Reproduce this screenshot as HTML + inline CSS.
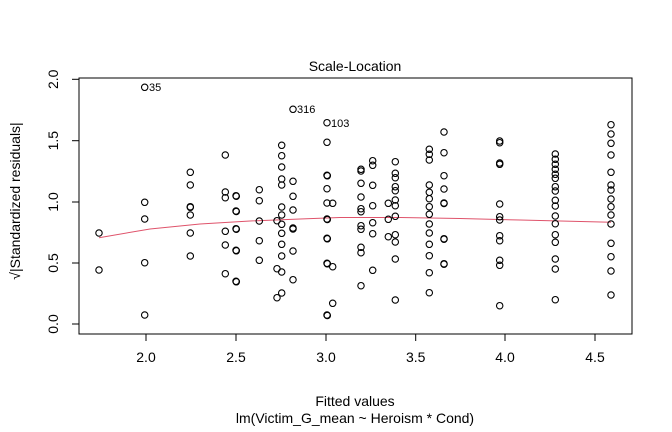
<!DOCTYPE html>
<html><head><meta charset="utf-8"><style>html,body{margin:0;padding:0;background:#fff}svg{display:block}text{font-family:"Liberation Sans",Arial,sans-serif;fill:#000}</style></head><body>
<svg width="672" height="432" viewBox="0 0 672 432" xmlns="http://www.w3.org/2000/svg">
<rect x="79" y="78" width="553" height="256" fill="none" stroke="#000" stroke-width="1"/>
<g stroke="#000" stroke-width="1">
<line x1="146" y1="334" x2="595" y2="334"/>
<line x1="146" y1="334" x2="146" y2="341"/><line x1="236" y1="334" x2="236" y2="341"/><line x1="326" y1="334" x2="326" y2="341"/><line x1="415.7" y1="334" x2="415.7" y2="341"/><line x1="505" y1="334" x2="505" y2="341"/><line x1="595" y1="334" x2="595" y2="341"/>
<line x1="79" y1="79.3" x2="79" y2="324"/>
<line x1="72" y1="79.3" x2="79" y2="79.3"/><line x1="72" y1="140.7" x2="79" y2="140.7"/><line x1="72" y1="202" x2="79" y2="202"/><line x1="72" y1="263" x2="79" y2="263"/><line x1="72" y1="324" x2="79" y2="324"/>
</g>
<g font-size="14" text-anchor="middle">
<text x="146" y="362">2.0</text><text x="236" y="362">2.5</text><text x="326" y="362">3.0</text><text x="415.7" y="362">3.5</text><text x="505" y="362">4.0</text><text x="595" y="362">4.5</text>
<text transform="translate(58,79.3) rotate(-90)">2.0</text>
<text transform="translate(58,140.7) rotate(-90)">1.5</text>
<text transform="translate(58,202) rotate(-90)">1.0</text>
<text transform="translate(58,263) rotate(-90)">0.5</text>
<text transform="translate(58,324) rotate(-90)">0.0</text>
<text x="355" y="71">Scale-Location</text>
<text x="355" y="406">Fitted values</text>
<text x="355" y="423">lm(Victim_G_mean ~ Heroism * Cond)</text>
<text transform="translate(20,201) rotate(-90)">√|Standardized residuals|</text>
</g>
<g font-size="11">
<text x="149" y="91">35</text><text x="297" y="113">316</text><text x="331" y="127">103</text>
</g>
<polyline fill="none" stroke="#df536b" stroke-width="1" points="99,237.7 150,229 200,224 250,221 300,219 340,217.5 400,217.5 460,218.5 520,220 611,222.3"/>
<g fill="none" stroke="#000" stroke-width="1.1">
<circle cx="99" cy="233" r="3.2"/><circle cx="99" cy="270" r="3.2"/>
<circle cx="144.7" cy="87.3" r="3.2"/><circle cx="144.7" cy="202.3" r="3.2"/><circle cx="144.7" cy="219" r="3.2"/><circle cx="144.7" cy="262.7" r="3.2"/><circle cx="144.7" cy="315" r="3.2"/>
<circle cx="190.3" cy="172.3" r="3.2"/><circle cx="190.3" cy="185" r="3.2"/><circle cx="190.3" cy="206.7" r="3.2"/><circle cx="190.3" cy="207.3" r="3.2"/><circle cx="190.3" cy="215" r="3.2"/><circle cx="190.3" cy="233" r="3.2"/><circle cx="190.3" cy="256" r="3.2"/>
<circle cx="225.3" cy="155" r="3.2"/><circle cx="225.3" cy="192" r="3.2"/><circle cx="225.3" cy="197.7" r="3.2"/><circle cx="225.3" cy="231.3" r="3.2"/><circle cx="225.3" cy="245" r="3.2"/><circle cx="225.3" cy="273.7" r="3.2"/>
<circle cx="236" cy="195.7" r="3.2"/><circle cx="236" cy="211" r="3.2"/><circle cx="236" cy="228.7" r="3.2"/><circle cx="236" cy="250.3" r="3.2"/><circle cx="236" cy="281.3" r="3.2"/>
<circle cx="236.3" cy="196.2" r="3.2"/><circle cx="236.3" cy="211.5" r="3.2"/><circle cx="236.3" cy="229.2" r="3.2"/><circle cx="236.3" cy="250.8" r="3.2"/><circle cx="236.3" cy="281.8" r="3.2"/>
<circle cx="259.3" cy="189.7" r="3.2"/><circle cx="259.3" cy="200.7" r="3.2"/><circle cx="259.3" cy="221" r="3.2"/><circle cx="259.3" cy="240.7" r="3.2"/><circle cx="259.3" cy="260.3" r="3.2"/>
<circle cx="277" cy="220.7" r="3.2"/><circle cx="277" cy="268.7" r="3.2"/><circle cx="277" cy="297.7" r="3.2"/>
<circle cx="281.7" cy="145.3" r="3.2"/><circle cx="281.7" cy="155.7" r="3.2"/><circle cx="281.7" cy="167" r="3.2"/><circle cx="281.7" cy="179" r="3.2"/><circle cx="281.7" cy="185" r="3.2"/><circle cx="281.7" cy="207" r="3.2"/><circle cx="281.7" cy="215" r="3.2"/><circle cx="281.7" cy="224.3" r="3.2"/><circle cx="281.7" cy="233.3" r="3.2"/><circle cx="281.7" cy="244.3" r="3.2"/><circle cx="281.7" cy="256" r="3.2"/><circle cx="281.7" cy="272" r="3.2"/><circle cx="281.7" cy="293" r="3.2"/>
<circle cx="293" cy="109.3" r="3.2"/><circle cx="293" cy="181.3" r="3.2"/><circle cx="293" cy="196.3" r="3.2"/><circle cx="293" cy="210" r="3.2"/><circle cx="293" cy="228" r="3.2"/><circle cx="293" cy="229" r="3.2"/><circle cx="293" cy="251" r="3.2"/><circle cx="293" cy="279.7" r="3.2"/>
<circle cx="327" cy="122.7" r="3.2"/><circle cx="327" cy="142.3" r="3.2"/><circle cx="327" cy="175.3" r="3.2"/><circle cx="327" cy="188.7" r="3.2"/><circle cx="327" cy="203" r="3.2"/><circle cx="327" cy="219" r="3.2"/><circle cx="327" cy="238.3" r="3.2"/><circle cx="327" cy="263.3" r="3.2"/><circle cx="327" cy="315" r="3.2"/>
<circle cx="327.3" cy="175.8" r="3.2"/><circle cx="327.3" cy="219.5" r="3.2"/><circle cx="327.3" cy="238.8" r="3.2"/><circle cx="327.3" cy="263.8" r="3.2"/><circle cx="327.3" cy="315.5" r="3.2"/>
<circle cx="332.7" cy="203.3" r="3.2"/><circle cx="332.7" cy="266.7" r="3.2"/><circle cx="332.7" cy="303.3" r="3.2"/>
<circle cx="361" cy="169.3" r="3.2"/><circle cx="361" cy="171" r="3.2"/><circle cx="361" cy="183.3" r="3.2"/><circle cx="361" cy="197" r="3.2"/><circle cx="361" cy="208.7" r="3.2"/><circle cx="361" cy="211.7" r="3.2"/><circle cx="361" cy="225.7" r="3.2"/><circle cx="361" cy="229.3" r="3.2"/><circle cx="361" cy="247.3" r="3.2"/><circle cx="361" cy="252.7" r="3.2"/><circle cx="361" cy="285.7" r="3.2"/>
<circle cx="372.7" cy="160.7" r="3.2"/><circle cx="372.7" cy="165.3" r="3.2"/><circle cx="372.7" cy="185.3" r="3.2"/><circle cx="372.7" cy="205.7" r="3.2"/><circle cx="372.7" cy="222.7" r="3.2"/><circle cx="372.7" cy="233.7" r="3.2"/><circle cx="372.7" cy="270.3" r="3.2"/>
<circle cx="388.3" cy="203.3" r="3.2"/><circle cx="388.3" cy="219.3" r="3.2"/><circle cx="388.3" cy="236.7" r="3.2"/>
<circle cx="395.3" cy="161.7" r="3.2"/><circle cx="395.3" cy="173.3" r="3.2"/><circle cx="395.3" cy="177.7" r="3.2"/><circle cx="395.3" cy="186.7" r="3.2"/><circle cx="395.3" cy="190.7" r="3.2"/><circle cx="395.3" cy="200" r="3.2"/><circle cx="395.3" cy="205.7" r="3.2"/><circle cx="395.3" cy="216.3" r="3.2"/><circle cx="395.3" cy="234.7" r="3.2"/><circle cx="395.3" cy="242" r="3.2"/><circle cx="395.3" cy="259" r="3.2"/><circle cx="395.3" cy="300" r="3.2"/>
<circle cx="429.3" cy="149.3" r="3.2"/><circle cx="429.3" cy="154.3" r="3.2"/><circle cx="429.3" cy="160" r="3.2"/><circle cx="429.3" cy="185" r="3.2"/><circle cx="429.3" cy="192.3" r="3.2"/><circle cx="429.3" cy="198.7" r="3.2"/><circle cx="429.3" cy="206.7" r="3.2"/><circle cx="429.3" cy="214.3" r="3.2"/><circle cx="429.3" cy="224" r="3.2"/><circle cx="429.3" cy="233" r="3.2"/><circle cx="429.3" cy="244.3" r="3.2"/><circle cx="429.3" cy="255.7" r="3.2"/><circle cx="429.3" cy="272.7" r="3.2"/><circle cx="429.3" cy="292.7" r="3.2"/>
<circle cx="444" cy="132" r="3.2"/><circle cx="444" cy="152.7" r="3.2"/><circle cx="444" cy="175.7" r="3.2"/><circle cx="444" cy="189" r="3.2"/><circle cx="444" cy="203" r="3.2"/><circle cx="444" cy="203.5" r="3.2"/><circle cx="444" cy="238.7" r="3.2"/><circle cx="444" cy="239.2" r="3.2"/><circle cx="444" cy="263.7" r="3.2"/><circle cx="444" cy="264.2" r="3.2"/>
<circle cx="499.7" cy="141" r="3.2"/><circle cx="499.7" cy="142.7" r="3.2"/><circle cx="499.7" cy="163" r="3.2"/><circle cx="499.7" cy="164.3" r="3.2"/><circle cx="499.7" cy="204" r="3.2"/><circle cx="499.7" cy="216.7" r="3.2"/><circle cx="499.7" cy="220" r="3.2"/><circle cx="499.7" cy="235.7" r="3.2"/><circle cx="499.7" cy="240.7" r="3.2"/><circle cx="499.7" cy="260.3" r="3.2"/><circle cx="499.7" cy="265.3" r="3.2"/><circle cx="499.7" cy="305.7" r="3.2"/>
<circle cx="555.3" cy="154" r="3.2"/><circle cx="555.3" cy="159.3" r="3.2"/><circle cx="555.3" cy="164.3" r="3.2"/><circle cx="555.3" cy="169.3" r="3.2"/><circle cx="555.3" cy="174.3" r="3.2"/><circle cx="555.3" cy="178.3" r="3.2"/><circle cx="555.3" cy="186.7" r="3.2"/><circle cx="555.3" cy="191" r="3.2"/><circle cx="555.3" cy="200.3" r="3.2"/><circle cx="555.3" cy="206" r="3.2"/><circle cx="555.3" cy="216" r="3.2"/><circle cx="555.3" cy="223.7" r="3.2"/><circle cx="555.3" cy="234.7" r="3.2"/><circle cx="555.3" cy="242.3" r="3.2"/><circle cx="555.3" cy="259" r="3.2"/><circle cx="555.3" cy="269" r="3.2"/><circle cx="555.3" cy="299.7" r="3.2"/>
<circle cx="611" cy="124.7" r="3.2"/><circle cx="611" cy="134" r="3.2"/><circle cx="611" cy="143.3" r="3.2"/><circle cx="611" cy="155" r="3.2"/><circle cx="611" cy="172.3" r="3.2"/><circle cx="611" cy="185" r="3.2"/><circle cx="611" cy="190" r="3.2"/><circle cx="611" cy="199" r="3.2"/><circle cx="611" cy="206.7" r="3.2"/><circle cx="611" cy="215" r="3.2"/><circle cx="611" cy="224" r="3.2"/><circle cx="611" cy="243.3" r="3.2"/><circle cx="611" cy="256.7" r="3.2"/><circle cx="611" cy="271" r="3.2"/><circle cx="611" cy="295" r="3.2"/>
</g>
</svg>
</body></html>
